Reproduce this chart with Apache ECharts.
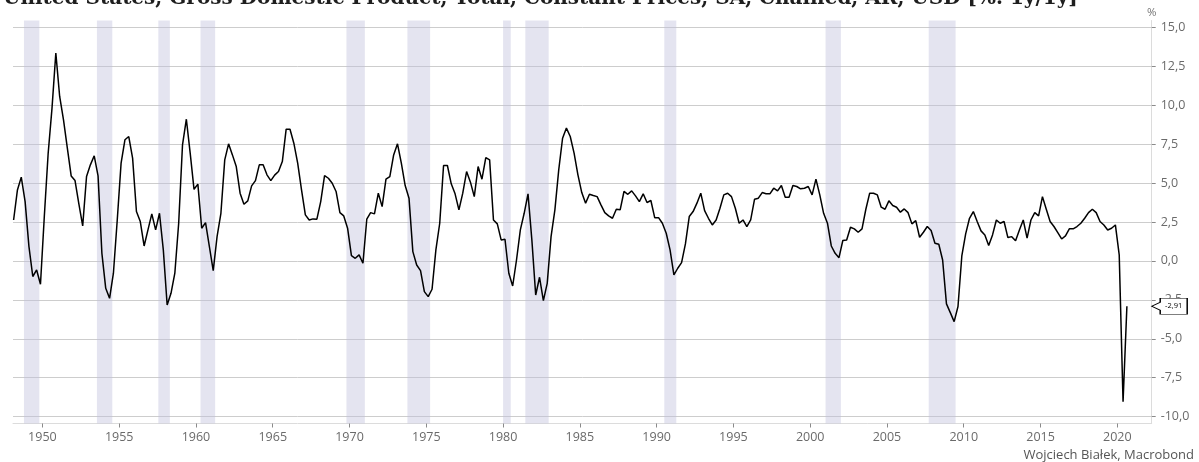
<!DOCTYPE html>
<html><head><meta charset="utf-8">
<script src="https://cdn.jsdelivr.net/npm/echarts@6/dist/echarts.min.js"></script>
<style>html,body{margin:0;padding:0;background:#fff}#c{width:1199px;height:462px}</style>
</head><body><div id="c"></div>
<script>
// US real GDP, % y/y, quarterly from 1948Q1
const firstYear = 1948;
const gdp1948_1959 = [2.63,4.56,5.38,3.81, 0.92,-1.0,-0.58,-1.5, 2.85,6.9,9.8,13.35, 10.56,9.06,7.24,5.46,
  5.16,3.66,2.25,5.42, 6.17,6.75,5.46,0.49, -1.76,-2.4,-0.79,2.63, 6.28,7.78,7.99,6.6,
  3.17,2.53,0.96,1.99, 3.02,1.99,3.06,0.71, -2.83,-2.08,-0.79,2.42, 7.46,9.1,6.92,4.6];
const gdp1960s = [4.93,2.1,2.46,0.92, -0.62,1.56,3.06,6.49, 7.52,6.81,6.06,4.35, 3.64,3.86,4.82,5.16,
  6.17,6.17,5.53,5.16, 5.51,5.74,6.38,8.46, 8.46,7.56,6.28,4.56, 2.96,2.63,2.7,2.68,
  3.81,5.48,5.31,4.99, 4.46,3.1,2.89,2.1];
const gdp1970s = [0.34,0.17,0.39,-0.15, 2.68,3.1,3.02,4.35, 3.49,5.25,5.42,6.81, 7.52,6.28,4.84,4.03,
  0.6,-0.26,-0.62,-1.97, -2.29,-1.82,0.71,2.42, 6.13,6.13,4.95,4.31, 3.28,4.35,5.74,5.06,
  4.13,6.06,5.25,6.64, 6.49,2.63,2.38,1.35];
const gdp1980s = [1.39,-0.79,-1.61,0.06, 1.99,3.06,4.31,1.35, -2.19,-1.05,-2.55,-1.44, 1.56,3.28,5.85,7.88,
  8.53,7.99,6.92,5.53, 4.39,3.71,4.28,4.2, 4.13,3.6,3.1,2.89, 2.74,3.32,3.28,4.46,
  4.28,4.5,4.18,3.81, 4.31,3.75,3.88,2.78];
const gdp1990s = [2.78,2.42,1.78,0.71, -0.9,-0.47,-0.11,1.09, 2.85,3.17,3.71,4.35, 3.23,2.74,2.31,2.63,
  3.38,4.24,4.35,4.13, 3.38,2.42,2.63,2.21, 2.63,3.96,4.03,4.39, 4.31,4.31,4.67,4.5,
  4.84,4.09,4.09,4.84, 4.78,4.63,4.67,4.78];
const gdp2000s = [4.24,5.25,4.24,3.06, 2.42,0.96,0.49,0.21, 1.31,1.35,2.16,2.06, 1.84,2.06,3.32,4.35,
  4.35,4.24,3.45,3.32, 3.86,3.56,3.45,3.13, 3.34,3.1,2.38,2.59, 1.52,1.84,2.21,1.95,
  1.14,1.07,0.06,-2.76, -3.32,-3.9,-2.93,0.32];
const gdp2010s = [1.74,2.74,3.17,2.53, 1.93,1.67,0.99,1.67, 2.63,2.42,2.53,1.5, 1.56,1.29,1.99,2.63,
  1.46,2.63,3.1,2.89, 4.13,3.32,2.53,2.21, 1.82,1.41,1.61,2.06, 2.06,2.21,2.42,2.74,
  3.1,3.32,3.1,2.53, 2.31,1.99,2.1,2.31];
const gdp2020 = [0.39,-9.04,-2.91];

// recession shading (decimal years)
const recessionStart = [1948.8, 1953.55, 1957.55, 1960.3, 1969.8, 1973.77, 1980.0, 1981.45, 1990.5, 2001.0, 2007.72];
const recessionEnd   = [1949.8, 1954.55, 1958.3, 1961.25, 1971.0, 1975.25, 1980.5, 1982.97, 1991.28, 2002.0, 2009.47];

const xTickYears = [1950,1955,1960,1965,1970,1975,1980,1985,1990,1995,2000,2005,2010,2015,2020];
const yTicks = [-10,-7.5,-5,-2.5,0,2.5,5,7.5,10,12.5,15];
const titleText = 'United States, Gross Domestic Product, Total, Constant Prices, SA, Chained, AR, USD [%. 1y/1y]';
const sourceText = 'Wojciech Białek, Macrobond';
const unitText = '%';

const values = [].concat(gdp1948_1959, gdp1960s, gdp1970s, gdp1980s, gdp1990s, gdp2000s, gdp2010s, gdp2020);
const seriesData = values.map((v, i) => [firstYear + i / 4 + 0.125, v]);
const last = seriesData[seriesData.length - 1];
const X_MIN = 1948.086, X_MAX = 2022.24, Y_MIN = -10.44, Y_MAX = 15.44;
const comma = (v, d) => v.toFixed(d).replace('.', ',');
const lab = { fontFamily: '"Open Sans", sans-serif', fontSize: 12.5, color: '#6a6a6a' };

const chart = echarts.init(document.getElementById('c'), null, { renderer: 'canvas' });
chart.setOption({
  animation: false,
  backgroundColor: '#fff',
  grid: { left: 13, right: 47.3, top: 20.5, bottom: 38.5, containLabel: false },
  xAxis: {
    type: 'value', min: X_MIN, max: X_MAX,
    axisLine: { show: true, onZero: false, lineStyle: { color: '#dcdcdc', width: 1 } },
    axisTick: { show: true, customValues: xTickYears, length: 4, lineStyle: { color: '#8a8a8a' } },
    axisLabel: Object.assign({ customValues: xTickYears, margin: 7, formatter: v => String(Math.round(v)) }, lab),
    splitLine: { show: false }
  },
  yAxis: {
    type: 'value', position: 'right', min: Y_MIN, max: Y_MAX,
    name: unitText, nameLocation: 'end', nameGap: 2,
    nameTextStyle: { fontFamily: '"Open Sans", sans-serif', fontSize: 11.5, color: '#777', align: 'center', verticalAlign: 'bottom' },
    axisLine: { show: true, lineStyle: { color: '#dcdcdc', width: 1 } },
    axisTick: { show: true, customValues: yTicks, length: 4, lineStyle: { color: '#8a8a8a' } },
    axisLabel: Object.assign({ customValues: yTicks, margin: 9, formatter: v => comma(v, 1) }, lab),
    splitLine: { show: true, lineStyle: { color: '#cdcdcd', width: 1 } }
  },
  series: [
    {
      type: 'line', data: [], z: 1, silent: true,
      markArea: {
        silent: true,
        itemStyle: { color: 'rgba(190,190,219,0.42)' },
        data: recessionStart.map((s, i) => [{ xAxis: s }, { xAxis: recessionEnd[i] }])
      }
    },
    {
      type: 'line', data: seriesData, z: 3, showSymbol: false, symbol: 'none',
      lineStyle: { color: '#000', width: 1.5 },
      markPoint: {
        silent: true,
        symbol: 'path://M0,8L8.5,4L8.5,0L35.5,0L35.5,16L8.5,16L8.5,12Z',
        symbolSize: [35.5, 16], symbolKeepAspect: false,
        symbolOffset: [17.75, 0],
        itemStyle: { color: '#fff', borderColor: '#000', borderWidth: 1 },
        label: { show: true, position: 'inside', offset: [4.25, 0], color: '#000',
          fontFamily: '"Open Sans", sans-serif', fontSize: 7.5, formatter: () => comma(last[1], 2) },
        data: [{ coord: [X_MAX, last[1]] }]
      }
    }
  ],
  graphic: [
    { type: 'text', x: 3, y: -11, silent: true,
      style: { text: titleText, font: 'bold 20px "DejaVu Serif"', fill: '#1e1e1e' } },
    { type: 'text', x: 1194, y: 455, silent: true,
      style: { text: sourceText, font: '13px "Open Sans"', fill: '#555', align: 'right', verticalAlign: 'middle' } }
  ]
});
</script></body></html>
